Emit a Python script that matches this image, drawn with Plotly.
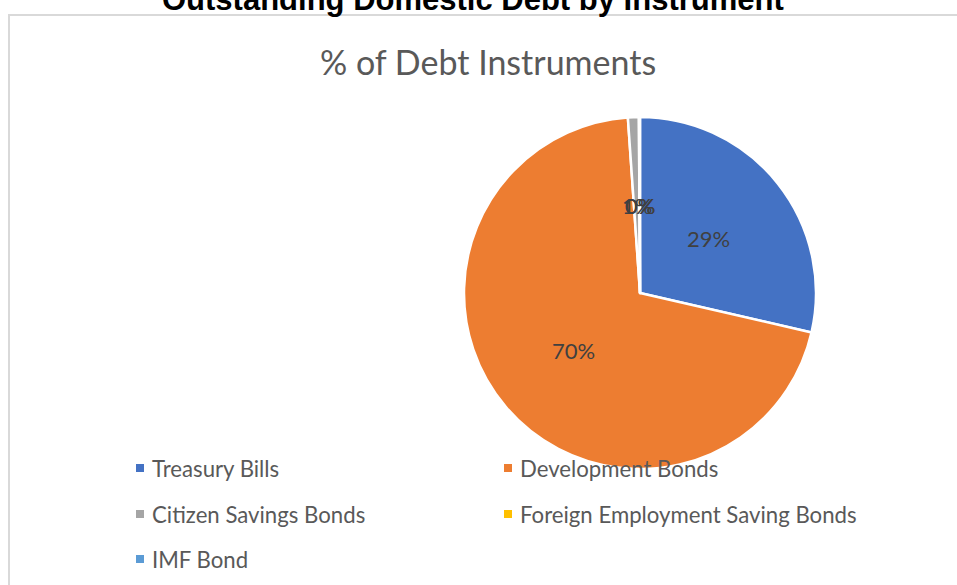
import math
import plotly.graph_objects as go

# Outstanding domestic debt, share by instrument (%)
instruments = [
    "Treasury Bills",
    "Development Bonds",
    "Citizen Savings Bonds",
    "Foreign Employment Saving Bonds",
    "IMF Bond",
]
shares = [28.6, 70.3, 1.0, 0.05, 0.05]
colors = ["#4472C4", "#ED7D31", "#A5A5A5", "#FFC000", "#5B9BD5"]

W, H = 957, 585
cx, cy, r = 640, 293, 176  # pie centre and radius in pixels

fig = go.Figure()
fig.add_trace(go.Pie(
    labels=instruments,
    values=shares,
    sort=False,
    direction="clockwise",
    rotation=0,
    textinfo="none",
    hoverinfo="label+percent",
    marker=dict(colors=colors, line=dict(color="white", width=2.5)),
    domain=dict(x=[(cx - r) / W, (cx + r) / W], y=[1 - (cy + r) / H, 1 - (cy - r) / H]),
    showlegend=False,
))

# Percentage labels placed at half radius along each slice's middle angle
total = sum(shares)
start = 0.0
annotations = []
for name, v in zip(instruments, shares):
    frac = v / total
    mid = (start + frac / 2) * 2 * math.pi
    start += frac
    px = cx + 0.5 * r * math.sin(mid)
    py = cy - 0.5 * r * math.cos(mid)
    annotations.append(dict(
        x=px / W, y=1 - py / H, xref="paper", yref="paper",
        xanchor="center", yanchor="middle",
        text=f"{round(frac * 100)}%", showarrow=False,
        font=dict(family="Lato, sans-serif", size=22, color="#404040"),
    ))

# Page heading above the chart frame
annotations.append(dict(
    x=473 / W, y=1, xref="paper", yref="paper", yanchor="middle", yshift=1,
    text="<b>Outstanding Domestic Debt by Instrument</b>", showarrow=False,
    font=dict(family="Liberation Sans, Arial, sans-serif", size=31, color="#000000"),
))
# Chart title
annotations.append(dict(
    x=488 / W, y=1 - 62 / H, xref="paper", yref="paper",
    xanchor="center", yanchor="middle",
    text="% of Debt Instruments", showarrow=False,
    font=dict(family="Lato, sans-serif", size=34, color="#595959"),
))

# Legend: two columns of square swatches with labels
shapes = [dict(
    type="rect", xref="paper", yref="paper",
    x0=9 / W, x1=1.05, y0=-0.05, y1=1 - 15 / H,
    line=dict(color="#D9D9D9", width=2), fillcolor="rgba(0,0,0,0)", layer="below",
)]
col_x = [140, 508]
row_y = [468, 514, 559]
for i, (name, col) in enumerate(zip(instruments, colors)):
    mx = col_x[i % 2]
    my = row_y[i // 2]
    shapes.append(dict(
        type="rect", xref="paper", yref="paper",
        x0=(mx - 4) / W, x1=(mx + 4) / W, y0=1 - (my + 4) / H, y1=1 - (my - 4) / H,
        line=dict(width=0), fillcolor=col,
    ))
    annotations.append(dict(
        x=(mx + 10) / W, y=1 - my / H, xref="paper", yref="paper",
        xanchor="left", yanchor="middle",
        text=name, showarrow=False,
        font=dict(family="Lato, sans-serif", size=22.2, color="#595959"),
    ))

fig.update_layout(
    width=W, height=H,
    margin=dict(l=0, r=0, t=0, b=0),
    paper_bgcolor="white",
    annotations=annotations,
    shapes=shapes,
)

fig.write_html("out.html")
